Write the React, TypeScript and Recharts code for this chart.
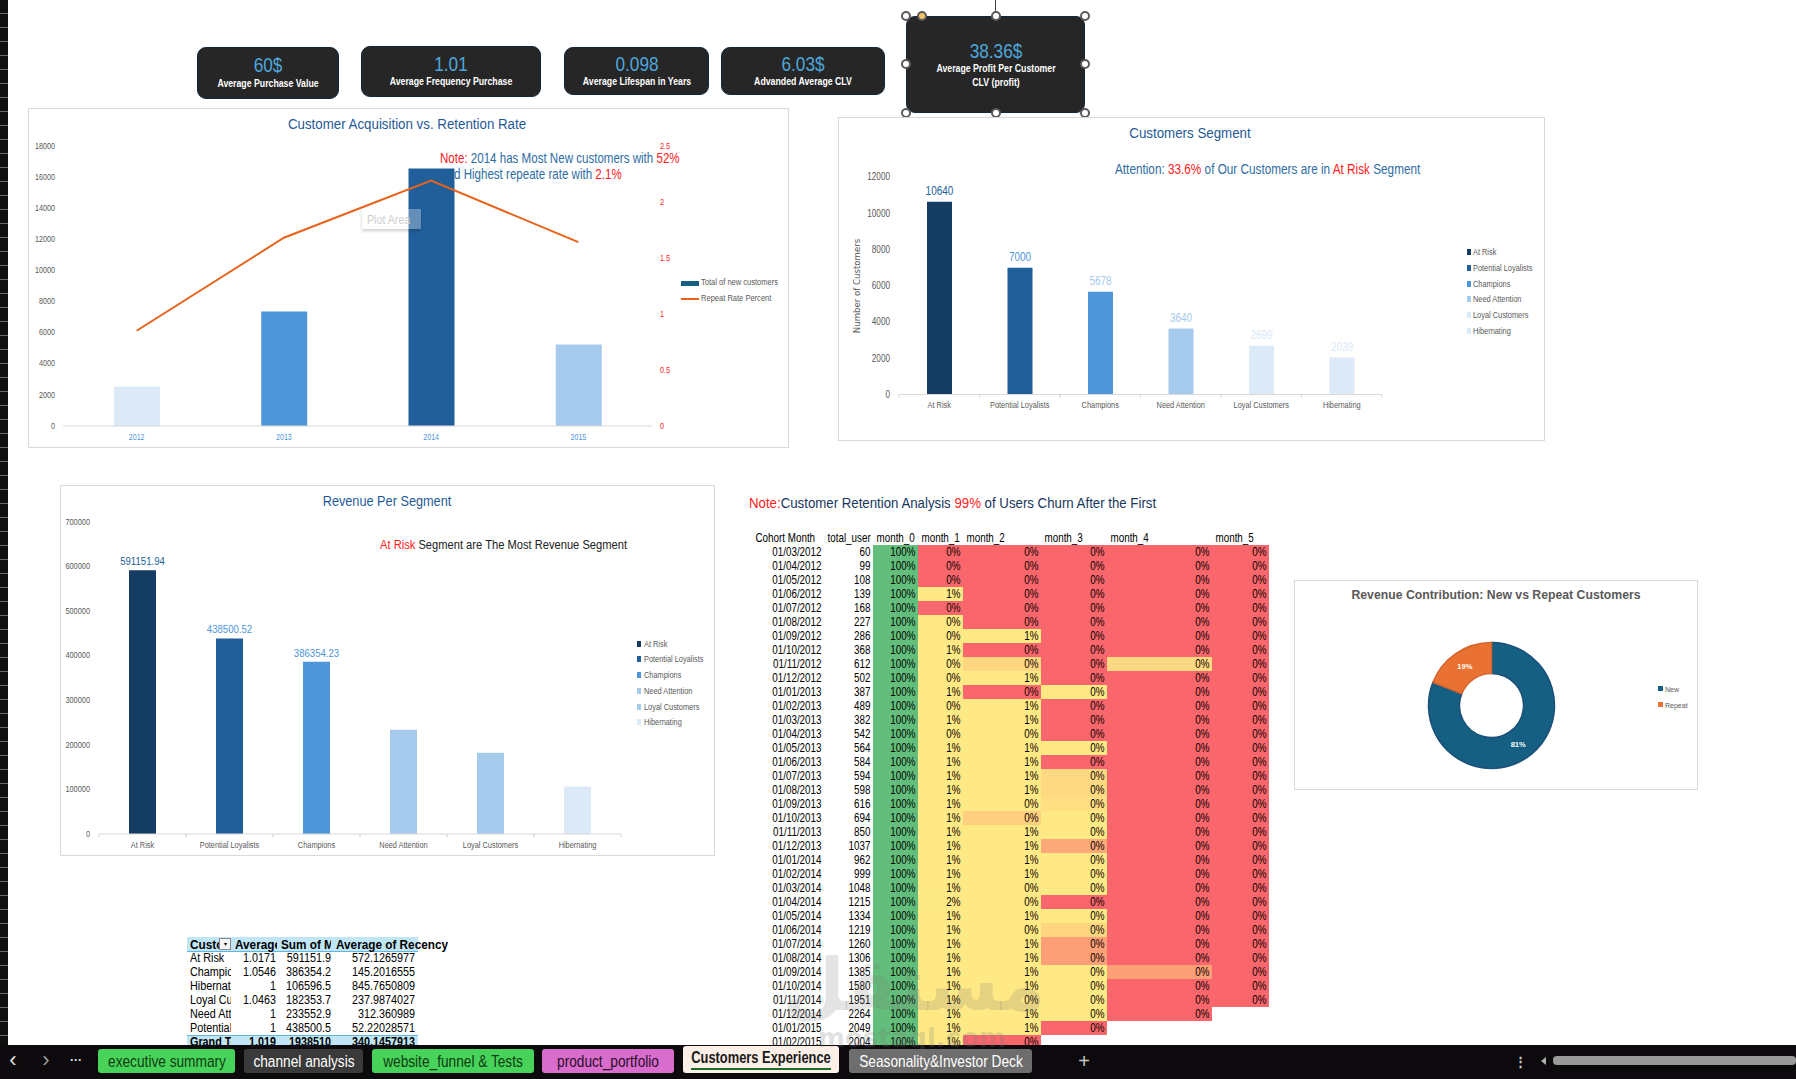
import React from "react"
import { Bar, BarChart, Cell, ComposedChart, Line, Pie, PieChart, XAxis, YAxis } from "recharts"

const SANS = '"Liberation Sans",Arial,sans-serif'
// no condensed face installed, so regular Liberation gets squeezed to Arial Narrow proportions
const SQUEEZE = 0.82

// KPI cards
const kpiValues = ["60$", "1.01", "0.098", "6.03$", "38.36$"]
const kpiLabels = ["Average Purchase Value", "Average Frequency Purchase", "Average Lifespan in Years", "Advanded Average CLV", "Average Profit Per Customer"]

// acquisition chart
const years = ["2012", "2013", "2014", "2015"]
const newCustomers = [2530, 7350, 16540, 5230]
const repeatRate = [0.85, 1.68, 2.19, 1.64]
const yearColors = ["#DCEAF7", "#4E95D9", "#215F9A", "#A6CAEC"]

// segments
const segments = ["At Risk", "Potential Loyalists", "Champions", "Need Attention", "Loyal Customers", "Hibernating"]
const segmentCustomers = [10640, 7000, 5678, 3640, 2699, 2039]
const segmentRevenue = [591151.94, 438500.52, 386354.23, 233552.9, 182353.7, 106596.5]
const customerColors = ["#153D64", "#215F9A", "#4E95D9", "#A6CAEC", "#DCEAF7", "#DCEAF7"]
const customerLabelColors = ["#215F9A", "#4E95D9", "#A6CAEC", "#A6CAEC", "#DCEAF7", "#DCEAF7"]
const revenueColors = ["#153D64", "#215F9A", "#4E95D9", "#A6CAEC", "#A6CAEC", "#DCEAF7"]
const revenueLabelColors = ["#215F9A", "#4E95D9", "#4E95D9"]

// retention table
const cohorts = [
  "01/03/2012", "01/04/2012", "01/05/2012", "01/06/2012", "01/07/2012", "01/08/2012", "01/09/2012", "01/10/2012", "01/11/2012", "01/12/2012",
  "01/01/2013", "01/02/2013", "01/03/2013", "01/04/2013", "01/05/2013", "01/06/2013", "01/07/2013", "01/08/2013", "01/09/2013", "01/10/2013", "01/11/2013", "01/12/2013",
  "01/01/2014", "01/02/2014", "01/03/2014", "01/04/2014", "01/05/2014", "01/06/2014", "01/07/2014", "01/08/2014", "01/09/2014", "01/10/2014", "01/11/2014", "01/12/2014",
  "01/01/2015", "01/02/2015",
]
const totalUsers = [60, 99, 108, 139, 168, 227, 286, 368, 612, 502, 387, 489, 382, 542, 564, 584, 594, 598, 616, 694, 850, 1037, 962, 999, 1048, 1215, 1334, 1219, 1260, 1306, 1385, 1580, 1951, 2264, 2049, 2004]
const month0 = [100, 100, 100, 100, 100, 100, 100, 100, 100, 100, 100, 100, 100, 100, 100, 100, 100, 100, 100, 100, 100, 100, 100, 100, 100, 100, 100, 100, 100, 100, 100, 100, 100, 100, 100, 100]
const month1 = [0, 0, 0, 1, 0, 0.4, 0.4, 1, 0.4, 0.4, 1, 0.4, 1, 0.4, 1, 1, 1, 1, 1, 1, 1, 1, 1, 1, 1, 2, 1, 1, 1, 1, 1, 1, 1, 1, 1, 1]
const month2 = [0, 0, 0, 0, 0, 0, 1, 0, 0.34, 1, 0, 1, 1, 0.4, 1, 1, 1, 1, 0.4, 0.32, 1, 1, 1, 1, 0.4, 0.4, 1, 0.4, 1, 1, 1, 1, 0.4, 1, 1, 0]
const month3 = [0, 0, 0, 0, 0, 0, 0, 0, 0, 0, 0.4, 0, 0, 0, 0.4, 0, 0.35, 0.35, 0.37, 0.4, 0.4, 0.2, 0.4, 0.4, 0.4, 0, 0.4, 0.34, 0.17, 0.17, 0.4, 0.4, 0.4, 0.4, 0]
const month4 = [0, 0, 0, 0, 0, 0, 0, 0, 0.35, 0, 0, 0, 0, 0, 0, 0, 0, 0, 0, 0, 0, 0, 0, 0, 0, 0, 0, 0, 0, 0, 0.17, 0, 0, 0]
const month5 = [0, 0, 0, 0, 0, 0, 0, 0, 0, 0, 0, 0, 0, 0, 0, 0, 0, 0, 0, 0, 0, 0, 0, 0, 0, 0, 0, 0, 0, 0, 0, 0, 0]
const heatHeaders = ["Cohort Month", "total_user", "month_0", "month_1", "month_2", "month_3", "month_4", "month_5"]
const heatSpans = [72, 49, 45, 45, 78, 66, 105, 57]

// revenue split
const splitNames = ["New", "Repeat"]
const splitValues = [81, 19]
const splitColors = ["#156082", "#E97132"]
const splitStrokes = ["#1B4F7A", "#D5652C"]

// pivot
const pivotHeaders = ["Custo", "Average", "Sum of M", "Average of Recency"]
const pivotNames = ["At Risk", "Champions", "Hibernating", "Loyal Customers", "Need Attention", "Potential Loyalists", "Grand Total"]
const pivotFrequency = ["1.0171", "1.0546", "1", "1.0463", "1", "1", "1.019"]
const pivotSum = ["591151.9", "386354.2", "106596.5", "182353.7", "233552.9", "438500.5", "1938510"]
const pivotRecency = ["572.1265977", "145.2016555", "845.7650809", "237.9874027", "312.360989", "52.22028571", "340.1457913"]

// sheet tabs
const sheetTabs = [
  { name: "executive summary", left: 98, width: 137, bg: "#47D359", color: "#103B14" },
  { name: "channel analysis", left: 244, width: 119, bg: "#3A3A3A", color: "#FFFFFF" },
  { name: "website_funnel & Tests", left: 372, width: 162, bg: "#47D359", color: "#103B14" },
  { name: "product_portfolio", left: 542, width: 132, bg: "#D86DCD", color: "#2A0E28" },
  { name: "Seasonality&Investor Deck", left: 849, width: 183, bg: "#6E6E6E", color: "#FFFFFF" },
]

const acquisitionRows = years.map((year, i) => ({ year, customers: newCustomers[i], rate: repeatRate[i] }))
const customerRows = segments.map((segment, i) => ({ segment, value: segmentCustomers[i] }))
const revenueRows = segments.map((segment, i) => ({ segment, value: segmentRevenue[i] }))
const splitRows = splitNames.map((name, i) => ({ name, value: splitValues[i] }))

const monthSeries = [month0, month1, month2, month3, month4, month5]
const heatRows = cohorts.map((cohort, i) => {
  const row: any = { cohort, total: totalUsers[i], span0: heatSpans[0], span1: heatSpans[1] }
  monthSeries.forEach((series, m) => {
    row[`m${m}`] = series[i]
    row[`span${m + 2}`] = series[i] === undefined ? 0 : heatSpans[m + 2]
  })
  return row
})
const heatWidth = heatSpans.reduce((a, b) => a + b, 0)
const heatStarts = heatSpans.map((_, i) => heatSpans.slice(0, i).reduce((a, b) => a + b, 0))

const mix = (a: number[], b: number[], t: number) => `rgb(${a.map((c, i) => Math.round(c + (b[i] - c) * t)).join(",")})`
const heatColor = (v: number) => {
  const red = [249, 103, 108]
  const yellow = [255, 233, 132]
  const green = [99, 190, 123]
  return v <= 0.4 ? mix(red, yellow, v / 0.4) : mix(yellow, green, (v - 0.4) / 99.6)
}

const Txt = ({ x, y, size = 12, color = "#000", anchor = "left", bold, font = SANS, rotate, children, sx = SQUEEZE }: any) => {
  const tx = anchor === "center" ? "-50%" : anchor === "right" ? "-100%" : "0"
  return (
    <div
      style={{
        position: "absolute", left: x, top: y, whiteSpace: "nowrap", fontFamily: font, fontSize: size, color,
        fontWeight: bold ? 700 : 400, lineHeight: 1, transformOrigin: `${anchor} center`,
        transform: `translate(${tx},-50%) scaleX(${sx})${rotate ? ` rotate(${rotate}deg)` : ""}`,
      }}
    >
      {children}
    </div>
  )
}

const ClipTxt = ({ x, y, w, bold, sx = 0.9, children }: any) => (
  <div style={{ position: "absolute", left: x, top: y - 7, width: w, height: 14, overflow: "hidden", whiteSpace: "nowrap", fontFamily: SANS, fontSize: 12, fontWeight: bold ? 700 : 400, lineHeight: "14px" }}>
    <span style={{ display: "inline-block", transformOrigin: "left center", transform: `scaleX(${sx})` }}>{children}</span>
  </div>
)

const SvgTxt = ({ x, y, size, fill, anchor = "middle", children }: any) => (
  <text transform={`translate(${x} ${y}) scale(${SQUEEZE} 1)`} textAnchor={anchor} dominantBaseline="central" fontFamily={SANS} fontSize={size} fill={fill}>
    {children}
  </text>
)

const Panel = ({ x, y, w, h, children }: any) => (
  <div style={{ position: "absolute", left: x, top: y, width: w, height: h, border: "1.5px solid #D9D9D9", boxSizing: "border-box", background: "#fff" }}>
    {children}
  </div>
)

const Kpi = ({ x, y, w, h, value, label, label2, valueY, labelY }: any) => (
  <>
    <div style={{ position: "absolute", left: x, top: y, width: w, height: h, background: "#262626", borderRadius: 9, border: "1px solid #12263C", boxSizing: "border-box" }} />
    <Txt x={x + w / 2} y={valueY} size={21} color="#4EA6DC" anchor="center">{value}</Txt>
    <Txt x={x + w / 2} y={labelY} size={11.5} color="#fff" anchor="center" bold sx={0.76}>{label}</Txt>
    {label2 && <Txt x={x + w / 2} y={labelY + 14} size={11.5} color="#fff" anchor="center" bold sx={0.76}>{label2}</Txt>}
  </>
)

const Legend = ({ x, ys, names, colors, textX }: any) => (
  <>
    {names.map((name: string, i: number) => (
      <React.Fragment key={name}>
        <div style={{ position: "absolute", left: x, top: ys[i] - 3, width: 4, height: 6, background: colors[i] }} />
        <Txt x={textX} y={ys[i]} size={9} color="#595959">{name}</Txt>
      </React.Fragment>
    ))}
  </>
)

const categoryTick = (band: number, color = "#595959", marks = true, size = 9) => (props: any) => (
  <g>
    {marks && <line x1={props.x - band / 2} x2={props.x - band / 2} y1={props.y} y2={props.y + 3} stroke="#D9D9D9" />}
    {marks && <line x1={props.x + band / 2} x2={props.x + band / 2} y1={props.y} y2={props.y + 3} stroke="#D9D9D9" />}
    <SvgTxt x={props.x} y={props.y + 11} size={size} fill={color}>{props.payload.value}</SvgTxt>
  </g>
)

const valueTick = (size: number, fill = "#595959", anchor = "end") => (props: any) => (
  <SvgTxt x={props.x} y={props.y} size={size} fill={fill} anchor={anchor}>{props.payload.value}</SvgTxt>
)

const barLabel = (colors: string[], size: number, gap: number) => (props: any) => {
  const { x, y, width, index, value } = props
  if (!colors[index]) return null
  return <SvgTxt x={x + width / 2} y={y - gap} size={size} fill={colors[index]}>{value}</SvgTxt>
}

const heatCell = (col: number) => (props: any) => {
  const { x, y, width, height, payload } = props
  if (!width) return null
  if (col === 0 || col === 1) {
    return <SvgTxt x={x + width - 2.5} y={y + height / 2} size={12} fill="#000" anchor="end">{col === 0 ? payload.cohort : payload.total}</SvgTxt>
  }
  const v = payload[`m${col - 2}`]
  return (
    <g>
      <rect x={x} y={y} width={width} height={height} fill={heatColor(v)} shapeRendering="crispEdges" />
      <SvgTxt x={x + width - 2.5} y={y + height / 2} size={12} fill="#000" anchor="end">{Math.round(v)}%</SvgTxt>
    </g>
  )
}

const HeatHeader = (props: any) => (
  <SvgTxt x={props.x + 3.5} y={props.y - 7} size={12} fill="#000" anchor="start">{heatHeaders[props.index]}</SvgTxt>
)

const donutLabel = ({ cx, cy, midAngle, innerRadius, outerRadius, value }: any) => {
  const r = (innerRadius + outerRadius) / 2
  const a = (-midAngle * Math.PI) / 180
  return (
    <text x={cx + r * Math.cos(a)} y={cy + r * Math.sin(a)} textAnchor="middle" dominantBaseline="central" fontFamily={SANS} fontWeight={700} fontSize={7.5} fill="#fff">
      {value}%
    </text>
  )
}

const Handle = ({ x, y, fill = "#fff" }: any) => (
  <div style={{ position: "absolute", left: x - 5, top: y - 5, width: 10, height: 10, borderRadius: 5, background: fill, border: "2px solid #5A5A5A", boxSizing: "border-box" }} />
)

export default function App() {
  return (
    <div style={{ position: "absolute", left: 0, top: 0, width: 1796, height: 1079, overflow: "hidden", background: "#fff" }}>
      {/* row header strip */}
      <div style={{ position: "absolute", left: 0, top: 0, width: 8, height: 1045, background: "repeating-linear-gradient(#0F0F0F 0 13px,#6A6A6A 13px 14px)" }} />

      <Kpi x={197} y={47} w={142} h={52} value={kpiValues[0]} label={kpiLabels[0]} valueY={63.5} labelY={84} />
      <Kpi x={361} y={46} w={180} h={51} value={kpiValues[1]} label={kpiLabels[1]} valueY={63} labelY={82} />
      <Kpi x={564} y={47} w={145} h={48} value={kpiValues[2]} label={kpiLabels[2]} valueY={63} labelY={82} />
      <Kpi x={721} y={47} w={164} h={48} value={kpiValues[3]} label={kpiLabels[3]} valueY={63} labelY={82} />
      <Kpi x={906} y={16} w={179} h={97} value={kpiValues[4]} label={kpiLabels[4]} label2="CLV (profit)" valueY={49.5} labelY={69} />
      <div style={{ position: "absolute", left: 995, top: 0, width: 1, height: 16, background: "#444" }} />
      {[[906, 16], [995.5, 16], [1085, 16], [906, 64], [1085, 64], [906, 113], [995.5, 113], [1085, 113]].map(([x, y]) => (
        <Handle key={`${x}-${y}`} x={x} y={y} />
      ))}
      <Handle x={922} y={16} fill="#F5C26B" />

      {/* Customer acquisition */}
      <Panel x={28} y={108} w={761} h={340}>
        <ComposedChart width={758} height={337} data={acquisitionRows} margin={{ top: 36.8, right: 112, bottom: 0, left: 0 }}>
          <XAxis dataKey="year" height={20} tickLine={false} tickSize={0} tickMargin={0} axisLine={{ stroke: "#D9D9D9" }} tick={categoryTick(147, "#4E95D9", false, 8.6)} interval={0} />
          <YAxis yAxisId="left" width={34} domain={[0, 18000]} ticks={[0, 2000, 4000, 6000, 8000, 10000, 12000, 14000, 16000, 18000]} tickLine={false} axisLine={false} tickSize={0} tickMargin={8} tick={valueTick(8.8)} />
          <YAxis yAxisId="right" orientation="right" width={23} domain={[0, 2.5]} ticks={[0, 0.5, 1, 1.5, 2, 2.5]} tickLine={false} axisLine={false} tickSize={0} tickMargin={8} tick={valueTick(8.8, "#FF2020", "start")} />
          <Bar yAxisId="left" dataKey="customers" barSize={46} isAnimationActive={false}>
            {years.map((y, i) => <Cell key={y} fill={yearColors[i]} />)}
          </Bar>
          <Line yAxisId="right" dataKey="rate" type="linear" stroke="#E8621A" strokeWidth={2} dot={false} isAnimationActive={false} />
        </ComposedChart>
      </Panel>
      <Txt x={407} y={124} size={15.3} sx={0.87} color="#1F5A96" anchor="center">Customer Acquisition vs. Retention Rate</Txt>
      <Txt x={440} y={158} size={14.1} color="#2E6DA4"><span style={{ color: "#FF2020" }}>Note:</span> 2014 has Most New customers with <span style={{ color: "#FF2020" }}>52%</span></Txt>
      <Txt x={454} y={174} size={14.1} color="#2E6DA4">d Highest repeate rate with <span style={{ color: "#FF2020" }}>2.1%</span></Txt>
      <div style={{ position: "absolute", left: 362, top: 209, width: 59, height: 20, background: "rgba(255,255,255,0.3)", boxShadow: "0 2px 3px rgba(0,0,0,0.2)" }} />
      <Txt x={367} y={219} size={13} color="#CFCFCF">Plot Area</Txt>
      <div style={{ position: "absolute", left: 681, top: 281, width: 18, height: 5, background: "#156082" }} />
      <Txt x={701} y={283} size={9.2} color="#595959">Total of new customers</Txt>
      <div style={{ position: "absolute", left: 681, top: 298, width: 18, height: 2, background: "#E8621A" }} />
      <Txt x={701} y={299} size={9.2} color="#595959">Repeat Rate Percent</Txt>

      {/* Customers segment */}
      <Panel x={838} y={117} w={707} h={324}>
        <BarChart width={704} height={321} data={customerRows} margin={{ top: 59.2, right: 161, bottom: 24.5, left: 0 }}>
          <XAxis dataKey="segment" height={20} tickLine={false} tickSize={0} tickMargin={0} axisLine={{ stroke: "#D9D9D9" }} tick={categoryTick(80.5)} interval={0} />
          <YAxis width={60} domain={[0, 12000]} ticks={[0, 2000, 4000, 6000, 8000, 10000, 12000]} tickLine={false} axisLine={false} tickSize={0} tickMargin={9} tick={valueTick(10)} />
          <Bar dataKey="value" barSize={25} isAnimationActive={false} label={barLabel(customerLabelColors, 12.2, 11)}>
            {segments.map((s, i) => <Cell key={s} fill={customerColors[i]} />)}
          </Bar>
        </BarChart>
      </Panel>
      <Txt x={1190} y={133} size={15.3} sx={0.87} color="#1F5A96" anchor="center">Customers Segment</Txt>
      <Txt x={1115} y={169} size={14.35} color="#2E6DA4">Attention: <span style={{ color: "#FF2020" }}>33.6%</span> of Our Customers are in <span style={{ color: "#FF2020" }}>At Risk</span> Segment</Txt>
      <Txt x={857} y={286} size={8.6} color="#595959" anchor="center" rotate={-90} sx={1} font='"DejaVu Sans",sans-serif'>Number of Customers</Txt>
      <Legend x={1467} textX={1473} ys={[252, 268, 284, 299, 315, 331]} names={segments} colors={customerColors} />

      {/* Revenue per segment */}
      <Panel x={60} y={485} w={655} h={371}>
        <BarChart width={652} height={368} data={revenueRows} margin={{ top: 35.8, right: 92, bottom: 0, left: 0 }}>
          <XAxis dataKey="segment" height={20} tickLine={false} tickSize={0} tickMargin={0} axisLine={{ stroke: "#D9D9D9" }} tick={categoryTick(87)} interval={0} />
          <YAxis width={38} domain={[0, 700000]} ticks={[0, 100000, 200000, 300000, 400000, 500000, 600000, 700000]} tickLine={false} axisLine={false} tickSize={0} tickMargin={9} tick={valueTick(9)} />
          <Bar dataKey="value" barSize={27} isAnimationActive={false} label={barLabel(revenueLabelColors, 11.7, 9.5)}>
            {segments.map((s, i) => <Cell key={s} fill={revenueColors[i]} />)}
          </Bar>
        </BarChart>
      </Panel>
      <Txt x={387} y={501} size={15.5} color="#1F5A96" anchor="center">Revenue Per Segment</Txt>
      <Txt x={380} y={545} size={13.6} color="#222"><span style={{ color: "#FF2020" }}>At Risk</span> Segment are The Most Revenue Segment</Txt>
      <Legend x={637} textX={644} ys={[644, 659, 675, 691, 707, 722]} names={segments} colors={revenueColors} />

      {/* Retention heatmap */}
      <Txt x={749} y={502} size={15} sx={0.883} color="#17375E"><span style={{ color: "#FF2020" }}>Note:</span>Customer Retention Analysis <span style={{ color: "#FF2020" }}>99%</span> of Users Churn After the First</Txt>
      <div style={{ position: "absolute", left: 752, top: 531 }}>
        <BarChart width={heatWidth} height={518} data={heatRows} layout="vertical" barCategoryGap={0} margin={{ top: 0, right: 0, bottom: 0, left: 0 }}>
          <XAxis type="number" orientation="top" domain={[0, heatWidth]} ticks={heatStarts} interval={0} height={14} tickLine={false} axisLine={false} tickSize={0} tickMargin={0} tick={HeatHeader} />
          <YAxis type="category" dataKey="cohort" width={0} hide />
          {heatSpans.map((_, i) => (
            <Bar key={i} dataKey={`span${i}`} stackId="row" isAnimationActive={false} shape={heatCell(i)} />
          ))}
        </BarChart>
      </div>

      {/* Revenue split donut */}
      <Panel x={1294} y={580} w={404} h={210}>
        <PieChart width={401} height={207} margin={{ top: 0, right: 0, bottom: 0, left: 0 }}>
          <Pie data={splitRows} dataKey="value" nameKey="name" cx={196.5} cy={124.5} outerRadius={63} innerRadius={32} startAngle={90} endAngle={-270} label={donutLabel} labelLine={false} isAnimationActive={false}>
            {splitNames.map((n, i) => <Cell key={n} fill={splitColors[i]} stroke={splitStrokes[i]} strokeWidth={1.5} />)}
          </Pie>
        </PieChart>
      </Panel>
      <Txt x={1496} y={595} size={12} color="#595959" anchor="center" bold sx={1.02}>Revenue Contribution: New vs Repeat Customers</Txt>
      {splitNames.map((n, i) => (
        <React.Fragment key={n}>
          <div style={{ position: "absolute", left: 1658, top: [686, 702][i], width: 5, height: 5, background: splitColors[i] }} />
          <Txt x={1665} y={[689, 705][i]} size={7} color="#595959" sx={1}>{n}</Txt>
        </React.Fragment>
      ))}

      {/* Pivot table */}
      <div style={{ position: "absolute", left: 187, top: 937, width: 231, height: 15, background: "#C0E6F5", borderBottom: "1px solid #61B5E0", boxSizing: "border-box" }} />
      <div style={{ position: "absolute", left: 187, top: 1035, width: 231, height: 14, background: "#C0E6F5", borderTop: "1px solid #61B5E0", boxSizing: "border-box" }} />
      <ClipTxt x={190} y={945} w={29} bold sx={0.98}>{pivotHeaders[0]}</ClipTxt>
      <div style={{ position: "absolute", left: 219, top: 938, width: 12, height: 12, border: "1px solid #8A8A8A", background: "#F4F4F4", boxSizing: "border-box", fontSize: 6, lineHeight: "10px", textAlign: "center" }}>▾</div>
      <ClipTxt x={235} y={945} w={42} bold sx={0.98}>{pivotHeaders[1]}</ClipTxt>
      <ClipTxt x={281} y={945} w={50} bold sx={0.98}>{pivotHeaders[2]}</ClipTxt>
      <Txt x={336} y={945} size={12} bold sx={0.98}>{pivotHeaders[3]}</Txt>
      {pivotNames.map((name, i) => {
        const bold = i === pivotNames.length - 1
        const y = 958 + i * 14
        return (
          <React.Fragment key={name}>
            <ClipTxt x={190} y={y} w={41} bold={bold}>{name}</ClipTxt>
            <Txt x={275.5} y={y} anchor="right" bold={bold} sx={0.9}>{pivotFrequency[i]}</Txt>
            <Txt x={330.5} y={y} anchor="right" bold={bold} sx={0.9}>{pivotSum[i]}</Txt>
            <Txt x={415} y={y} anchor="right" bold={bold} sx={0.9}>{pivotRecency[i]}</Txt>
          </React.Fragment>
        )
      })}

      {/* Sheet tabs */}
      <div style={{ position: "absolute", left: 0, top: 1045, width: 1796, height: 34, background: "#0D0A0D" }} />
      <Txt x={13} y={1060} size={22} color="#E0E0E0" anchor="center" sx={1}>‹</Txt>
      <Txt x={46} y={1060} size={22} color="#9A9A9A" anchor="center" sx={1}>›</Txt>
      <Txt x={76} y={1060} size={12} color="#E0E0E0" anchor="center" bold sx={1}>···</Txt>
      {sheetTabs.map((t) => (
        <React.Fragment key={t.name}>
          <div style={{ position: "absolute", left: t.left, top: 1049, width: t.width, height: 24, background: t.bg, borderRadius: 3 }} />
          <Txt x={t.left + t.width / 2} y={1062} size={16.7} color={t.color} anchor="center">{t.name}</Txt>
        </React.Fragment>
      ))}
      <div style={{ position: "absolute", left: 683, top: 1046, width: 156, height: 27, background: "#FBEFE8", borderRadius: 3 }} />
      <Txt x={761} y={1058} size={15.7} color="#1A1A1A" anchor="center" bold>Customers Experience</Txt>
      <div style={{ position: "absolute", left: 691, top: 1068, width: 140, height: 2, background: "#1E6B2A" }} />
      <Txt x={1084} y={1061} size={20} color="#C8C8C8" anchor="center" sx={1}>+</Txt>
      <Txt x={1520} y={1061} size={13} color="#D0D0D0" anchor="center" bold sx={1}>⋮</Txt>
      <div style={{ position: "absolute", left: 1541, top: 1057, width: 0, height: 0, borderTop: "4px solid transparent", borderBottom: "4px solid transparent", borderRight: "5px solid #B0B0B0" }} />
      <div style={{ position: "absolute", left: 1553, top: 1056, width: 243, height: 9, background: "#9A9A9A", borderRadius: 4 }} />

      {/* watermark */}
      <Txt x={914} y={985} size={72} color="rgba(120,120,120,0.2)" anchor="center" bold sx={1} font='"DejaVu Sans",sans-serif'>مستقل</Txt>
      <Txt x={912} y={1038} size={26} color="rgba(120,120,120,0.22)" anchor="center" bold sx={1} font='"DejaVu Sans",sans-serif'>mostaql.com</Txt>
    </div>
  )
}
